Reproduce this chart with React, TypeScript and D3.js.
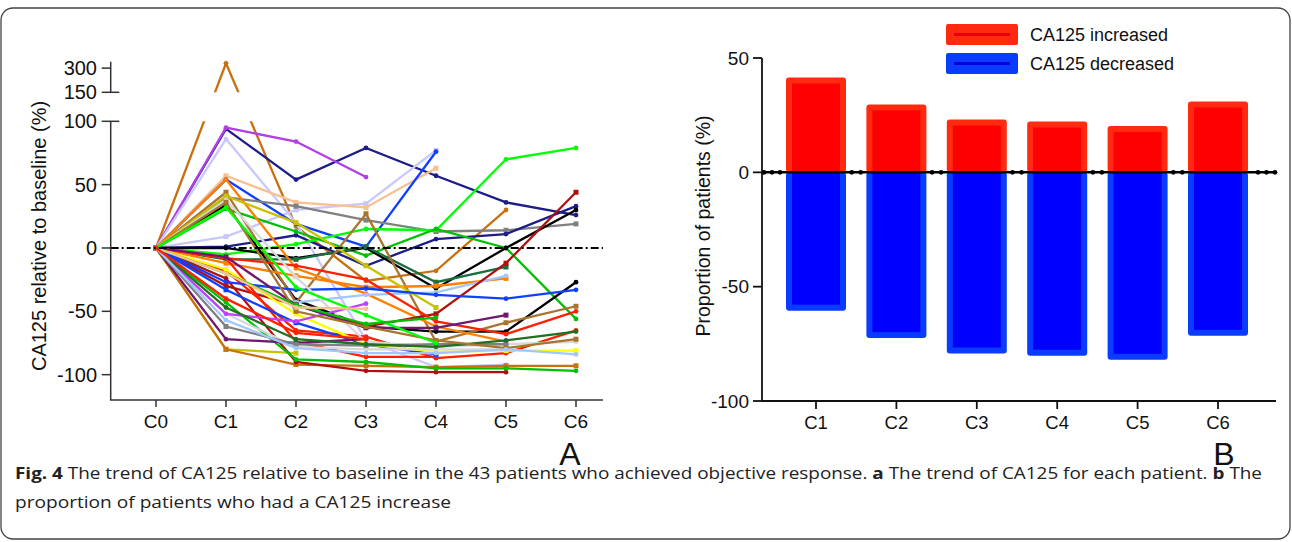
import React from "react";
import * as d3 from "d3";

// ---------- Panel A data ----------
const cycleLabels = ["C0", "C1", "C2", "C3", "C4", "C5", "C6"];
const lowTicks = [100, 50, 0, -50, -100];
const highTicks = [300, 150];

// CA125 relative to baseline (%) per patient, C0..C6 (null = no measurement)
const patientValues: (number | null)[][] = [
  [0, 330, 17, -26, -18, 30, null],
  [0, 94, 54, 79, 57, 36, 26],
  [0, 95, 84, 56, null, null, null],
  [0, 86, 20, -73, -94, -92, null],
  [0, 9, 30, 35, 77, null, null],
  [0, 57, 36, 32, 63, null, null],
  [0, 54, 19, 1, 76, null, null],
  [0, 40, 33, 22, 13, 14, 19],
  [0, 1, 10, -14, 7, 11, 33],
  [0, -5, 3, 15, 14, 70, 79],
  [0, 31, 13, -6, 15, 0, -56],
  [0, 34, -41, -62, -66, -66, -27],
  [0, 0, -8, 0, -32, 0, 30],
  [0, -9, -9, 1, -27, -15, null],
  [0, 44, -43, 27, -74, -59, -46],
  [0, 54, -16, -36, -62, -74, null],
  [0, -12, -22, -31, -30, -24, null],
  [0, -30, -43, -37, -35, -22, null],
  [0, 41, 20, -14, -47, null, null],
  [0, -80, -83, null, null, null, null],
  [0, -80, -92, -93, -94, -93, -93],
  [0, -24, -90, -97, -98, -98, null],
  [0, -43, -88, -90, -95, -95, -97],
  [0, -30, -45, -62, -52, -12, 44],
  [0, -8, -14, -25, -58, -68, -50],
  [0, -18, -65, -70, -87, -83, -65],
  [0, -8, -74, -86, -86, null, null],
  [0, -33, -59, -76, -84, null, null],
  [0, -27, -33, -32, -37, -40, -33],
  [0, -17, -52, -76, -82, -81, -81],
  [0, 38, -23, -74, -78, -76, -74],
  [0, -52, -78, -80, -80, -80, null],
  [0, -52, -58, -44, null, null, null],
  [0, -7, -45, -63, -63, -53, null],
  [0, -72, -75, -72, null, null, null],
  [0, -62, -76, -77, -76, -76, null],
  [0, -47, -72, -76, -78, -73, -66],
  [0, 36, -50, -62, -73, -79, -72],
  [0, 32, -31, -53, -75, null, null],
  [0, -20, -45, -60, -55, null, null],
  [0, -20, -47, -48, null, null, null],
  [0, -57, -79, -83, -83, -80, -84],
  [0, -40, -67, -72, null, null, null],
];

const patientColors = [
  "#c8700f", "#1c1c8a", "#b23ee8", "#c8c8ff", "#c8c8ff", "#f8c090", "#1040ff",
  "#808080", "#1c1c8a", "#00ff00", "#00c000", "#000000", "#000000", "#1a6e40",
  "#a87430", "#ff8000", "#ff8000", "#a0c8ff", "#c8c000", "#c8c000", "#c8700f",
  "#b01010", "#00c000", "#b01010", "#ff2000", "#ff2000", "#ff2000", "#1040ff",
  "#1040ff", "#ffff00", "#d8d8d8", "#d8d8d8", "#c040ff", "#701870", "#701870",
  "#808080", "#207020", "#a87430", "#00ff00", "#00c000", "#f8c090", "#a0c8ff",
  "#ff2000",
];
const patientMarkers = [
  "c", "c", "c", "c", "s", "s", "c", "s", "c", "c", "c", "c", "c", "s", "s", "c",
  "s", "c", "s", "s", "s", "c", "c", "s", "c", "c", "c", "s", "c", "s", "c", "c",
  "c", "s", "c", "s", "c", "s", "c", "c", "c", "c", "c",
];

// ---------- Panel B data ----------
const barCycles = ["C1", "C2", "C3", "C4", "C5", "C6"];
const increasedPct = [41.5, 29.7, 23.1, 22.2, 20.3, 31.0];
const decreasedPct = [-60.5, -72.5, -79.2, -80.2, -82.0, -71.5];
const barTicks = [50, 0, -50, -100];

const FONT = "'Liberation Sans', Arial, Helvetica, sans-serif";

export default function App() {
  // Panel A scales (broken y axis)
  const xA = d3.scalePoint<string>().domain(cycleLabels).range([156, 576]);
  const yLow = d3.scaleLinear().domain([-120, 100]).range([400, 121.3]);
  const yHigh = d3.scaleLinear().domain([150, 340]).range([92.3, 61.7]);
  const yA = (v: number) => (v > 125 ? yHigh(v) : yLow(v));
  const axisX = 110.7;

  const line = d3
    .line<[string, number | null]>()
    .defined((d) => d[1] !== null)
    .x((d) => xA(d[0]) as number)
    .y((d) => yA(d[1] as number));

  // Panel B scales
  const xB = d3.scalePoint<string>().domain(barCycles).range([816, 1218]);
  const yB = d3.scaleLinear().domain([-100, 50]).range([401, 58]);
  const bAxisX = 762;
  const barW = 60;
  const inset = 6;
  const y0 = yB(0);

  // dots on the zero line in gaps between bars
  const dotXs: number[] = [764, 772, 780];
  barCycles.slice(0, -1).forEach((c, i) => {
    const right = (xB(c) as number) + barW / 2;
    const left = (xB(barCycles[i + 1]) as number) - barW / 2;
    const mid = (right + left) / 2;
    dotXs.push(mid - 4.5, mid + 4.5);
  });
  dotXs.push(1258, 1266.5, 1275);

  return (
    <svg
      width={1292}
      height={542}
      style={{ position: "absolute", left: 0, top: 0, background: "#fff" }}
      fontFamily={FONT}
    >
      <defs>
        <clipPath id="clipA">
          <rect x={111} y={50} width={500} height={42.3} />
          <rect x={111} y={121.3} width={500} height={282} />
        </clipPath>
      </defs>

      {/* frame */}
      <rect x={1} y={8} width={1289} height={531} rx={12} fill="none" stroke="#444" strokeWidth={1.3} />

      {/* ===== Panel A ===== */}
      <g clipPath="url(#clipA)">
        {patientValues.map((vals, i) => {
          const pts = cycleLabels.map((c, j) => [c, vals[j]] as [string, number | null]);
          return (
            <g key={i}>
              <path d={line(pts) || ""} fill="none" stroke={patientColors[i]} strokeWidth={2.3} strokeLinejoin="miter" />
              {pts.map((p, j) =>
                p[1] === null ? null : patientMarkers[i] === "s" ? (
                  <rect
                    key={j}
                    x={(xA(p[0]) as number) - 2.5}
                    y={yA(p[1] as number) - 2.5}
                    width={5}
                    height={5}
                    fill={patientColors[i]}
                  />
                ) : (
                  <circle key={j} cx={xA(p[0]) as number} cy={yA(p[1] as number)} r={2.4} fill={patientColors[i]} />
                )
              )}
            </g>
          );
        })}
      </g>

      {/* zero reference (dash-dot) */}
      <line x1={axisX} x2={603} y1={yLow(0)} y2={yLow(0)} stroke="#000" strokeWidth={2} strokeDasharray="8,3,2,3" />

      {/* y axis A lower */}
      <line x1={axisX} x2={axisX} y1={yLow(100)} y2={400} stroke="#333" strokeWidth={1.5} />
      {/* y axis A upper */}
      <line x1={axisX} x2={axisX} y1={61.7} y2={yHigh(150)} stroke="#333" strokeWidth={1.5} />
      {lowTicks.map((t) => (
        <g key={"lt" + t}>
          <line x1={101.7} x2={t === 100 ? 119.3 : axisX} y1={yLow(t)} y2={yLow(t)} stroke="#333" strokeWidth={1.5} />
          <text x={97} y={yLow(t)} textAnchor="end" dominantBaseline="central" fontSize={20} fill="#111">
            {t}
          </text>
        </g>
      ))}
      {highTicks.map((t) => (
        <g key={"ht" + t}>
          <line x1={101.7} x2={t === 150 ? 119.3 : axisX} y1={yHigh(t)} y2={yHigh(t)} stroke="#333" strokeWidth={1.5} />
          <text x={97} y={yHigh(t)} textAnchor="end" dominantBaseline="central" fontSize={20} fill="#111">
            {t}
          </text>
        </g>
      ))}
      {/* x axis A */}
      <line x1={axisX - 0.75} x2={603} y1={400} y2={400} stroke="#333" strokeWidth={1.5} />
      {cycleLabels.map((c) => (
        <g key={"xa" + c}>
          <line x1={xA(c) as number} x2={xA(c) as number} y1={400} y2={407} stroke="#333" strokeWidth={1.5} />
          <text x={xA(c) as number} y={428} textAnchor="middle" fontSize={19} fill="#111">
            {c}
          </text>
        </g>
      ))}
      <text
        transform={`translate(39,236) rotate(-90)`}
        textAnchor="middle"
        dominantBaseline="central"
        fontSize={20}
        fill="#111"
      >
        CA125 relative to baseline (%)
      </text>
      <text x={570} y={465} textAnchor="middle" fontSize={32} fill="#111">
        A
      </text>

      {/* ===== Panel B ===== */}
      {barCycles.map((c, i) => {
        const cx = xB(c) as number;
        const yTop = yB(increasedPct[i]);
        const yBot = yB(decreasedPct[i]);
        return (
          <g key={"bar" + c}>
            <rect x={cx - barW / 2} y={yTop} width={barW} height={y0 - yTop} rx={3} fill="#ff2a10" />
            <rect x={cx - barW / 2 + inset} y={yTop + inset} width={barW - 2 * inset} height={y0 - yTop - inset} fill="#ff0000" />
            <rect x={cx - barW / 2} y={y0} width={barW} height={yBot - y0} rx={3} fill="#0a3cff" />
            <rect x={cx - barW / 2 + inset} y={y0} width={barW - 2 * inset} height={yBot - y0 - inset} fill="#0000ff" />
          </g>
        );
      })}
      <line x1={bAxisX} x2={1276} y1={y0} y2={y0} stroke="#000" strokeWidth={2.5} />
      {dotXs.map((x, i) => (
        <circle key={"d" + i} cx={x} cy={y0} r={2.4} fill="#000" />
      ))}
      <line x1={bAxisX} x2={bAxisX} y1={yB(50)} y2={yB(-100)} stroke="#111" strokeWidth={1.8} />
      {barTicks.map((t) => (
        <g key={"bt" + t}>
          <line x1={bAxisX - 9} x2={bAxisX} y1={yB(t)} y2={yB(t)} stroke="#111" strokeWidth={1.8} />
          <text x={bAxisX - 13} y={yB(t)} textAnchor="end" dominantBaseline="central" fontSize={19} fill="#111">
            {t}
          </text>
        </g>
      ))}
      <line x1={bAxisX - 0.9} x2={1276} y1={yB(-100)} y2={yB(-100)} stroke="#111" strokeWidth={1.8} />
      {barCycles.map((c) => (
        <g key={"xb" + c}>
          <line x1={xB(c) as number} x2={xB(c) as number} y1={401} y2={409} stroke="#111" strokeWidth={1.8} />
          <text x={xB(c) as number} y={429} textAnchor="middle" fontSize={18.5} fill="#111">
            {c}
          </text>
        </g>
      ))}
      <text
        transform={`translate(703,226) rotate(-90)`}
        textAnchor="middle"
        dominantBaseline="central"
        fontSize={19.5}
        fill="#111"
      >
        Proportion of patients (%)
      </text>
      <text x={1224} y={465} textAnchor="middle" fontSize={32} fill="#111">
        B
      </text>

      {/* legend */}
      <rect x={946} y={24} width={72} height={21} rx={2} fill="#ff2a10" />
      <line x1={954} x2={1010} y1={34.5} y2={34.5} stroke="#e80000" strokeWidth={3} />
      <text x={1030} y={35} dominantBaseline="central" fontSize={18} fill="#111">
        CA125 increased
      </text>
      <rect x={946} y={53} width={72} height={21} rx={2} fill="#0a3cff" />
      <line x1={954} x2={1010} y1={63.5} y2={63.5} stroke="#0000e0" strokeWidth={3} />
      <text x={1030} y={64} dominantBaseline="central" fontSize={18} fill="#111">
        CA125 decreased
      </text>

      {/* caption */}
      <text x={15} y={479} fontSize={16.5} fill="#222" fontFamily="'Open Sans', 'Noto Sans', sans-serif" textLength={1247} lengthAdjust="spacingAndGlyphs">
        <tspan fontWeight="bold">Fig. 4</tspan> The trend of CA125 relative to baseline in the 43 patients who achieved objective response.{" "}
        <tspan fontWeight="bold">a</tspan> The trend of CA125 for each patient. <tspan fontWeight="bold">b</tspan> The
      </text>
      <text x={15} y={508} fontSize={16.5} fill="#222" fontFamily="'Open Sans', 'Noto Sans', sans-serif" textLength={436} lengthAdjust="spacingAndGlyphs">
        proportion of patients who had a CA125 increase
      </text>
    </svg>
  );
}
